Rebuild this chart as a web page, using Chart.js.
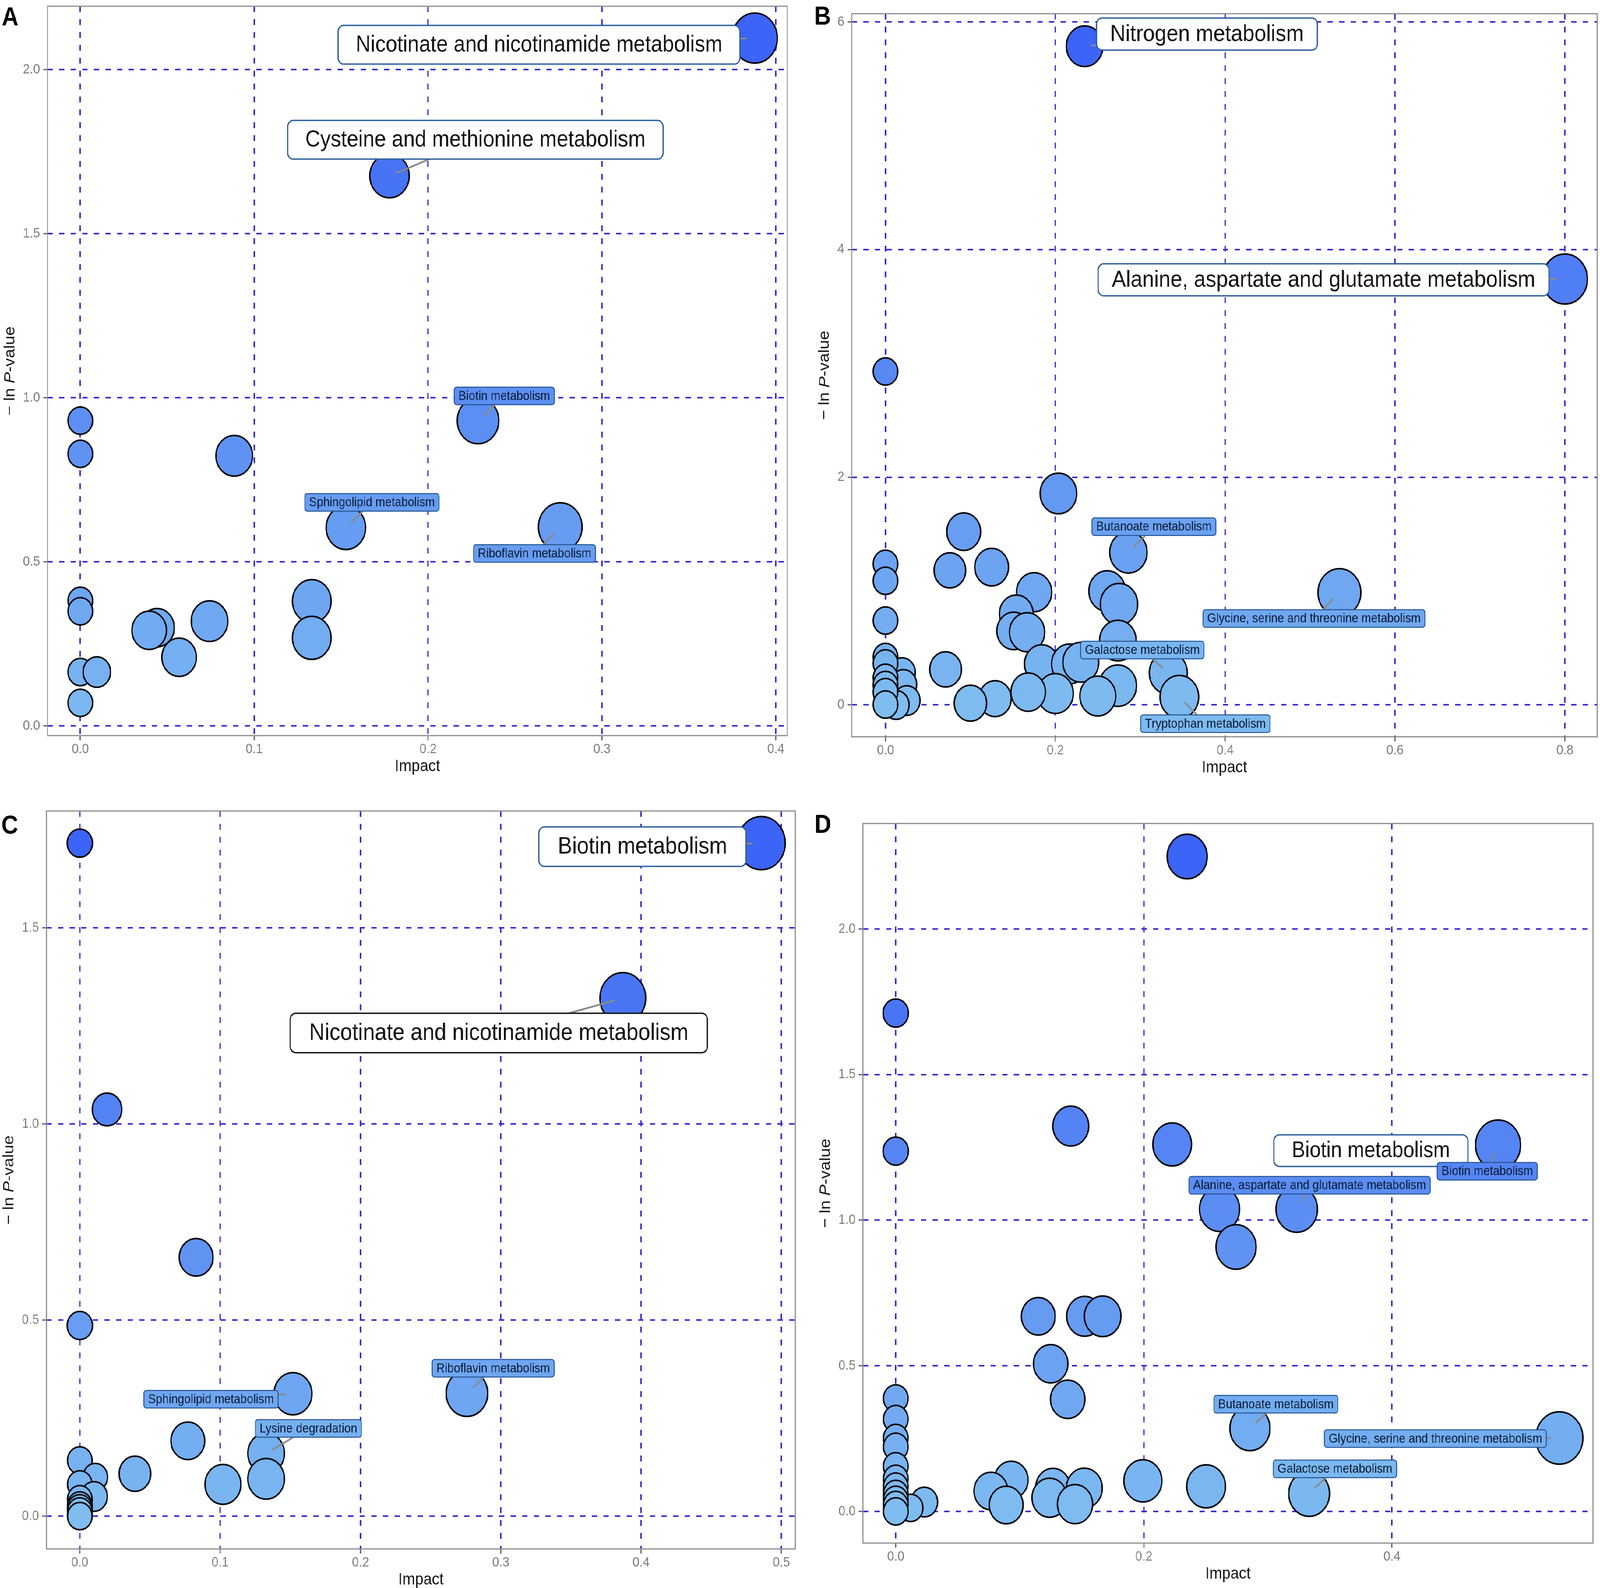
<!DOCTYPE html>
<html>
<head>
<meta charset="utf-8">
<title>Pathway impact bubble charts</title>
<script src="https://cdn.jsdelivr.net/npm/chart.js"></script>
<style>
  html, body { margin: 0; padding: 0; background: #fff; overflow: hidden; }
  #wrap { position: absolute; left: 0; top: 0; width: 4550px; height: 4065px; transform-origin: 0 0; }
  canvas { position: absolute; }
</style>
</head>
<body>
<div id="wrap">
  <canvas id="chartA" width="2275" height="2030" style="left:0px;top:0px;width:2275px;height:2030px"></canvas>
  <canvas id="chartB" width="2275" height="2030" style="left:2275px;top:0px;width:2275px;height:2030px"></canvas>
  <canvas id="chartC" width="2275" height="2035" style="left:0px;top:2030px;width:2275px;height:2035px"></canvas>
  <canvas id="chartD" width="2275" height="2035" style="left:2275px;top:2030px;width:2275px;height:2035px"></canvas>
</div>
<script>
'use strict';

// Panel A
const aImpact = [0.3879, 0.1778, 0, 0, 0.0885, 0.2287, 0.1527, 0.276, 0, 0, 0, 0.0095, 0, 0.0441, 0.0396, 0.0568, 0.0743, 0.1331, 0.1331];
const aLnP = [2.096, 1.676, 0.93, 0.829, 0.823, 0.93, 0.604, 0.606, 0.381, 0.349, 0.164, 0.164, 0.07, 0.299, 0.291, 0.209, 0.319, 0.38, 0.268];
const aSize = [0.66, 0.58, 0.37, 0.37, 0.54, 0.61, 0.58, 0.64, 0.37, 0.37, 0.37, 0.41, 0.37, 0.51, 0.51, 0.51, 0.54, 0.57, 0.57];
const aXTicks = [0, 0.1, 0.2, 0.3, 0.4];
const aXTickLabels = ['0.0', '0.1', '0.2', '0.3', '0.4'];
const aYTicks = [0, 0.5, 1, 1.5, 2];
const aYTickLabels = ['0.0', '0.5', '1.0', '1.5', '2.0'];
const aLabels = ['Nicotinate and nicotinamide metabolism', 'Cysteine and methionine metabolism', 'Biotin metabolism', 'Sphingolipid metabolism', 'Riboflavin metabolism'];
const aLabelPoints = [0, 1, 5, 6, 7];

// Panel B
const bImpact = [0.2345, 0.8, 0, 0.2036, 0.0921, 0.0758, 0.125, 0, 0, 0, 0.286, 0.5345, 0.175, 0.261, 0.275, 0.154, 0.151, 0.1667, 0.2736, 0.184, 0.2167, 0.23, 0.333, 0.346, 0.2736, 0.25, 0.2, 0.168, 0.129, 0.1, 0.0708, 0.0194, 0.021, 0.025, 0.0125, 0, 0, 0, 0, 0, 0];
const bLnP = [5.786, 3.741, 2.929, 1.857, 1.522, 1.182, 1.21, 1.239, 1.09, 0.741, 1.34, 0.987, 0.99, 1.0, 0.885, 0.8, 0.65, 0.638, 0.565, 0.36, 0.36, 0.375, 0.28, 0.07, 0.169, 0.078, 0.1, 0.112, 0.055, 0.015, 0.312, 0.284, 0.18, 0.038, 0.0, 0.421, 0.364, 0.238, 0.175, 0.112, 0.003];
const bSize = [0.54, 0.66, 0.37, 0.54, 0.50, 0.47, 0.50, 0.37, 0.37, 0.37, 0.55, 0.63, 0.52, 0.54, 0.55, 0.50, 0.50, 0.52, 0.54, 0.51, 0.53, 0.53, 0.56, 0.57, 0.55, 0.53, 0.53, 0.51, 0.48, 0.48, 0.47, 0.40, 0.40, 0.40, 0.39, 0.37, 0.37, 0.37, 0.37, 0.37, 0.37];
const bXTicks = [0, 0.2, 0.4, 0.6, 0.8];
const bXTickLabels = ['0.0', '0.2', '0.4', '0.6', '0.8'];
const bYTicks = [0, 2, 4, 6];
const bYTickLabels = ['0', '2', '4', '6'];
const bLabels = ['Nitrogen metabolism', 'Alanine, aspartate and glutamate metabolism', 'Butanoate metabolism', 'Glycine, serine and threonine metabolism', 'Galactose metabolism', 'Tryptophan metabolism'];
const bLabelPoints = [0, 1, 10, 11, 22, 23];

// Panel C
const cImpact = [0.4857, 0, 0.387, 0.0194, 0.0829, 0, 0.2759, 0.1519, 0.077, 0.1328, 0.1328, 0.102, 0.0393, 0, 0.011, 0, 0.0101, 0, 0, 0, 0, 0];
const cLnP = [1.716, 1.716, 1.321, 1.037, 0.66, 0.486, 0.313, 0.312, 0.192, 0.16, 0.095, 0.081, 0.108, 0.142, 0.0996, 0.081, 0.05, 0.043, 0.027, 0.02, 0.012, 0.0];
const cSize = [0.70, 0.38, 0.67, 0.44, 0.50, 0.38, 0.61, 0.56, 0.50, 0.54, 0.54, 0.53, 0.47, 0.37, 0.37, 0.37, 0.40, 0.37, 0.37, 0.37, 0.37, 0.37];
const cXTicks = [0, 0.1, 0.2, 0.3, 0.4, 0.5];
const cXTickLabels = ['0.0', '0.1', '0.2', '0.3', '0.4', '0.5'];
const cYTicks = [0, 0.5, 1, 1.5];
const cYTickLabels = ['0.0', '0.5', '1.0', '1.5'];
const cLabels = ['Biotin metabolism', 'Nicotinate and nicotinamide metabolism', 'Riboflavin metabolism', 'Sphingolipid metabolism', 'Lysine degradation'];
const cLabelPoints = [0, 2, 6, 7, 9];

// Panel D
const dImpact = [0.2349, 0, 0, 0.1411, 0.2228, 0.4855, 0.261, 0.3232, 0.2743, 0.1149, 0.1523, 0.1668, 0.1249, 0.1386, 0.2855, 0.5349, 0.3332, 0.2502, 0.1992, 0.1267, 0.152, 0.124, 0.1445, 0.093, 0.0767, 0.089, 0.023, 0.012, 0, 0, 0, 0, 0, 0, 0, 0, 0, 0, 0];
const dLnP = [2.2485, 1.711, 1.237, 1.323, 1.26, 1.258, 1.0376, 1.0376, 0.908, 0.67, 0.67, 0.67, 0.507, 0.385, 0.285, 0.252, 0.061, 0.086, 0.105, 0.082, 0.08, 0.047, 0.025, 0.108, 0.07, 0.022, 0.032, 0.012, 0.388, 0.317, 0.252, 0.222, 0.155, 0.112, 0.085, 0.06, 0.04, 0.022, 0.0];
const dSize = [0.59, 0.38, 0.38, 0.53, 0.57, 0.66, 0.59, 0.61, 0.59, 0.50, 0.53, 0.54, 0.51, 0.51, 0.59, 0.69, 0.60, 0.57, 0.56, 0.51, 0.53, 0.52, 0.52, 0.50, 0.50, 0.50, 0.40, 0.37, 0.37, 0.37, 0.37, 0.37, 0.37, 0.37, 0.37, 0.37, 0.37, 0.37, 0.37];
const dXTicks = [0, 0.2, 0.4];
const dXTickLabels = ['0.0', '0.2', '0.4'];
const dYTicks = [0, 0.5, 1, 1.5, 2];
const dYTickLabels = ['0.0', '0.5', '1.0', '1.5', '2.0'];
const dLabels = ['Biotin metabolism', 'Biotin metabolism', 'Alanine, aspartate and glutamate metabolism', 'Butanoate metabolism', 'Glycine, serine and threonine metabolism', 'Galactose metabolism'];
const dLabelPoints = [5, 5, 7, 14, 15, 16];

// look
const FONT = '"Liberation Sans", Arial, Helvetica, sans-serif';
const GRID_COLOR = '#3b2bd2';
const TICK_COLOR = '#7f7f7f';
const SIZE_UNIT = 100;
const BORDER_W = 4;
const LIGHT = [127, 189, 240];
const DARK = [60, 100, 246];
const PAGE_W = 4550, PAGE_H = 4065;

Chart.defaults.font.family = FONT;

const panels = [
    {
        id: 'chartA', letter: 'A', letterAt: [5, 65],
        impact: aImpact, lnp: aLnP, size: aSize,
        xTicks: aXTicks, xTickLabels: aXTickLabels, yTicks: aYTicks, yTickLabels: aYTickLabels,
        xRange: [-0.0189, 0.4066], yRange: [-0.0298, 2.193],
        area: { left: 135, top: 16, right: 2239, bottom: 1883 },
        big: { font: 59, padX: 50, padY: 20 },
        labels: aLabels, labelPoints: aLabelPoints,
        labelLayout: [
            { at: [0.2638, 2.0756], big: true },
            { at: [0.2272, 1.786], big: true },
            { at: [0.2438, 1.0054] },
            { at: [0.1677, 0.681] },
            { at: [0.2612, 0.5252] }
        ]
    },
    {
        id: 'chartB', letter: 'B', letterAt: [40, 63],
        impact: bImpact, lnp: bLnP, size: bSize,
        xTicks: bXTicks, xTickLabels: bXTickLabels, yTicks: bYTicks, yTickLabels: bYTickLabels,
        xRange: [-0.0398, 0.838], yRange: [-0.28, 6.072],
        area: { left: 147, top: 35, right: 2267, bottom: 1886 },
        big: { font: 60, padX: 39, padY: 11 },
        labels: bLabels, labelPoints: bLabelPoints,
        labelLayout: [
            { at: [0.3785, 5.893], big: true },
            { at: [0.5158, 3.734], big: true },
            { at: [0.3161, 1.565] },
            { at: [0.5045, 0.759] },
            { at: [0.3024, 0.482] },
            { at: [0.3767, -0.165] }
        ]
    },
    {
        id: 'chartC', letter: 'C', letterAt: [4, 104],
        impact: cImpact, lnp: cLnP, size: cSize,
        xTicks: cXTicks, xTickLabels: cXTickLabels, yTicks: cYTicks, yTickLabels: cYTickLabels,
        xRange: [-0.0238, 0.51], yRange: [-0.0837, 1.798],
        area: { left: 132, top: 46, right: 2262, bottom: 1935 },
        big: { font: 61, padX: 54, padY: 20 },
        labels: cLabels, labelPoints: cLabelPoints,
        labelLayout: [
            { at: [0.401, 1.707], big: true },
            { at: [0.2986, 1.232], big: true, edge: '#111111' },
            { at: [0.2946, 0.377] },
            { at: [0.0935, 0.298] },
            { at: [0.1629, 0.2236] }
        ]
    },
    {
        id: 'chartD', letter: 'D', letterAt: [41, 102],
        impact: dImpact, lnp: dLnP, size: dSize,
        xTicks: dXTicks, xTickLabels: dXTickLabels, yTicks: dYTicks, yTickLabels: dYTickLabels,
        xRange: [-0.02645, 0.562], yRange: [-0.1087, 2.362],
        area: { left: 179, top: 78, right: 2255, bottom: 1920 },
        big: { font: 57, padX: 51, padY: 12 },
        labels: dLabels, labelPoints: dLabelPoints,
        labelLayout: [
            { at: [0.383, 1.2388], big: true, noSegment: true },
            { at: [0.4768, 1.168] },
            { at: [0.3336, 1.12] },
            { at: [0.3064, 0.368] },
            { at: [0.435, 0.25] },
            { at: [0.354, 0.146] }
        ]
    }
];

// colour follows -ln p within each panel
let bubbleColor = (v, vmax) => {
    let t = Math.pow(Math.max(0, Math.min(1, v / vmax)), 0.8);
    let c = LIGHT.map((l, k) => Math.round(l + (DARK[k] - l) * t));
    return 'rgb(' + c[0] + ',' + c[1] + ',' + c[2] + ')';
}

let roundRect = (ctx, x, y, w, h, r) => {
    ctx.beginPath();
    ctx.moveTo(x + r, y);
    ctx.arcTo(x + w, y, x + w, y + h, r);
    ctx.arcTo(x + w, y + h, x, y + h, r);
    ctx.arcTo(x, y + h, x, y, r);
    ctx.arcTo(x, y, x + w, y, r);
    ctx.closePath();
}

let decorPlugin = (p, colors) => ({
    id: 'decor' + p.letter,
    afterDatasetsDraw(chart) {
        const ctx = chart.ctx;
        const a = chart.chartArea;
        const xs = chart.scales.x;
        const ys = chart.scales.y;
        const meta = chart.getDatasetMeta(0);

        ctx.save();
        ctx.strokeStyle = '#8c8c8c';
        ctx.lineWidth = 3;
        ctx.strokeRect(a.left, a.top, a.right - a.left, a.bottom - a.top);

        // label boxes
        let boxes = p.labels.map((text, i) => {
            const lay = p.labelLayout[i];
            const fs = lay.big ? p.big.font : 33;
            ctx.font = fs + 'px ' + FONT;
            const tw = ctx.measureText(text).width;
            const padX = lay.big ? p.big.padX : 12;
            const padY = lay.big ? p.big.padY : 6;
            return {
                text: text, lay: lay, fs: fs,
                cx: xs.getPixelForValue(lay.at[0]),
                cy: ys.getPixelForValue(lay.at[1]),
                w: tw + 2 * padX, h: fs + 2 * padY,
                pt: p.labelPoints[i]
            };
        });

        // segments
        ctx.strokeStyle = '#8a8a8a';
        ctx.lineWidth = 4.5;
        ctx.lineCap = 'butt';
        boxes.forEach(b => {
            if (b.lay.noSegment) return;
            const el = meta.data[b.pt];
            const r = p.size[b.pt] * SIZE_UNIT;
            const dx = el.x - b.cx, dy = el.y - b.cy;
            const len = Math.hypot(dx, dy);
            const t = Math.min(dx !== 0 ? (b.w / 2) / Math.abs(dx) : Infinity, dy !== 0 ? (b.h / 2) / Math.abs(dy) : Infinity);
            const endDist = len - 0.35 * r;
            if (t * len >= endDist) return;
            ctx.beginPath();
            ctx.moveTo(b.cx + dx * t, b.cy + dy * t);
            ctx.lineTo(b.cx + dx * endDist / len, b.cy + dy * endDist / len);
            ctx.stroke();
        });

        boxes.forEach(b => {
            const x = b.cx - b.w / 2, y = b.cy - b.h / 2;
            if (b.lay.big) {
                roundRect(ctx, x, y, b.w, b.h, 16);
                ctx.fillStyle = '#ffffff';
                ctx.fill();
                ctx.strokeStyle = b.lay.edge || '#2f5f9f';
                ctx.lineWidth = 3.5;
                ctx.stroke();
                ctx.fillStyle = '#111111';
            } else {
                roundRect(ctx, x, y, b.w, b.h, 7);
                ctx.fillStyle = colors[b.pt];
                ctx.fill();
                ctx.strokeStyle = '#24528f';
                ctx.lineWidth = 2.5;
                ctx.stroke();
                ctx.fillStyle = '#0b1a33';
            }
            ctx.font = b.fs + 'px ' + FONT;
            ctx.textAlign = 'center';
            ctx.textBaseline = 'middle';
            ctx.fillText(b.text, b.cx, b.cy + 1);
        });

        // axis titles
        ctx.fillStyle = '#1a1a1a';
        ctx.font = '43px ' + FONT;
        ctx.textAlign = 'center';
        ctx.textBaseline = 'middle';
        ctx.fillText('Impact', (a.left + a.right) / 2, a.bottom + 79);

        ctx.font = '35px ' + FONT;
        let maxW = Math.max(...p.yTickLabels.map(s => ctx.measureText(s).width));
        let tx = a.left - 12 - 9 - maxW - 36;
        let ty = (a.top + a.bottom) / 2;
        const parts = [['\u2212 ln ', '43px ' + FONT], ['P', 'italic 43px ' + FONT], ['-value', '43px ' + FONT]];
        let widths = parts.map(pp => { ctx.font = pp[1]; return ctx.measureText(pp[0]).width; });
        let total = widths.reduce((s, w) => s + w, 0);
        ctx.save();
        ctx.translate(tx, ty);
        ctx.rotate(-Math.PI / 2);
        ctx.textAlign = 'left';
        let px = -total / 2;
        parts.forEach((pp, k) => {
            ctx.font = pp[1];
            ctx.fillText(pp[0], px, 0);
            px += widths[k];
        });
        ctx.restore();

        // panel letter
        ctx.fillStyle = '#000000';
        ctx.font = 'bold 66px ' + FONT;
        ctx.textAlign = 'left';
        ctx.textBaseline = 'alphabetic';
        ctx.fillText(p.letter, p.letterAt[0], p.letterAt[1]);
        ctx.restore();
    }
});

let makeChart = (p) => {
    const canvas = document.getElementById(p.id);
    const W = canvas.width, H = canvas.height;
    const vmax = Math.max(...p.lnp);
    const colors = p.lnp.map(v => bubbleColor(v, vmax));
    const points = p.impact.map((v, i) => ({ x: v, y: p.lnp[i], r: p.size[i] * SIZE_UNIT - BORDER_W / 2 }));

    new Chart(canvas, {
        type: 'bubble',
        data: {
            datasets: [{
                data: points,
                backgroundColor: colors,
                borderColor: '#000000',
                borderWidth: BORDER_W,
                hoverBorderWidth: BORDER_W,
                clip: false
            }]
        },
        options: {
            responsive: false,
            animation: false,
            devicePixelRatio: 1,
            events: [],
            layout: {
                autoPadding: false,
                padding: { left: 0, top: p.area.top, right: W - p.area.right, bottom: 0 }
            },
            plugins: {
                legend: { display: false },
                tooltip: { enabled: false }
            },
            scales: {
                x: {
                    type: 'linear',
                    position: 'bottom',
                    min: p.xRange[0],
                    max: p.xRange[1],
                    afterBuildTicks: ax => { ax.ticks = p.xTicks.map(v => ({ value: v })); },
                    afterFit: ax => { ax.height = H - p.area.bottom; ax.paddingLeft = 0; ax.paddingRight = 0; },
                    ticks: {
                        callback: (v, i) => p.xTickLabels[i],
                        color: TICK_COLOR,
                        font: { size: 35 },
                        padding: 2,
                        autoSkip: false,
                        maxRotation: 0
                    },
                    grid: { color: GRID_COLOR, lineWidth: 4, tickColor: '#555555', tickWidth: 3, tickLength: 12 },
                    border: { display: false, dash: [15, 18] }
                },
                y: {
                    type: 'linear',
                    position: 'left',
                    min: p.yRange[0],
                    max: p.yRange[1],
                    afterBuildTicks: ax => { ax.ticks = p.yTicks.map(v => ({ value: v })); },
                    afterFit: ax => { ax.width = p.area.left; ax.paddingTop = 0; ax.paddingBottom = 0; },
                    ticks: {
                        callback: (v, i) => p.yTickLabels[i],
                        color: TICK_COLOR,
                        font: { size: 35 },
                        padding: 9,
                        autoSkip: false
                    },
                    grid: { color: GRID_COLOR, lineWidth: 4, tickColor: '#555555', tickWidth: 3, tickLength: 12 },
                    border: { display: false, dash: [15, 18] }
                }
            }
        },
        plugins: [decorPlugin(p, colors)]
    });
}

// the browser may give a smaller viewport than 4550x4065, so squeeze the layout into it
let fitPage = () => {
    const vw = window.innerWidth || PAGE_W, vh = window.innerHeight || PAGE_H;
    const sx = Math.min(1, vw / PAGE_W), sy = Math.min(1, vh / PAGE_H);
    document.getElementById('wrap').style.transform = 'scale(' + sx + ',' + sy + ')';
}

panels.forEach(makeChart);
fitPage();
</script>
</body>
</html>
